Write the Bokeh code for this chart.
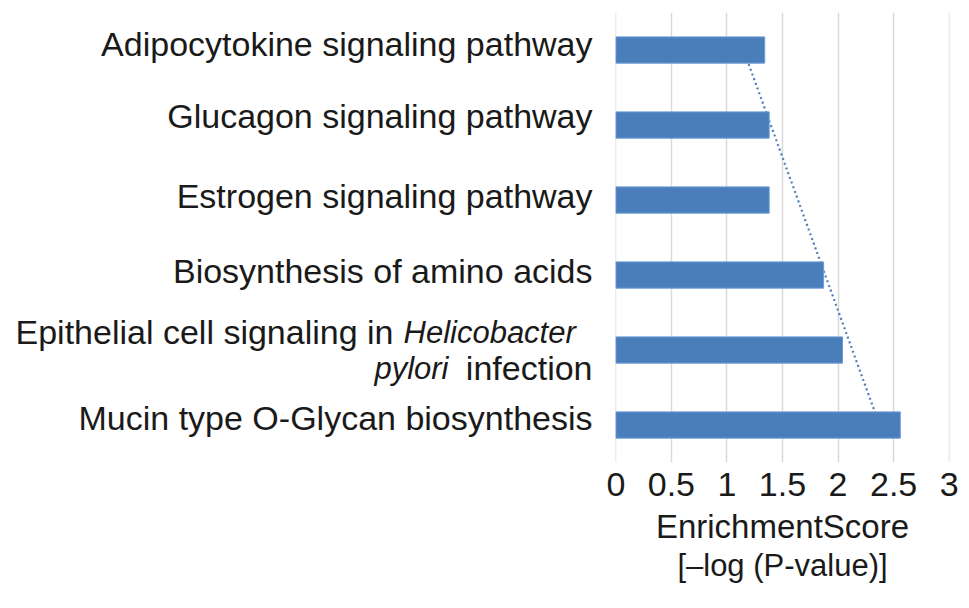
import numpy as np
from bokeh.plotting import figure
from bokeh.layouts import row
from bokeh.models import ColumnDataSource, Range1d, FactorRange, FixedTicker, LinearAxis
from bokeh.core.properties import value
from bokeh.embed import file_html
from bokeh.resources import INLINE

# ---- data ----
categories = [
    "Adipocytokine signaling pathway",
    "Glucagon signaling pathway",
    "Estrogen signaling pathway",
    "Biosynthesis of amino acids",
    "Epithelial cell signaling in Helicobacter pylori infection",
    "Mucin type O-Glycan biosynthesis",
]
scores = [1.34, 1.38, 1.38, 1.87, 2.04, 2.56]
x_ticks = [0, 0.5, 1, 1.5, 2, 2.5, 3]
x_tick_labels = ["0", "0.5", "1", "1.5", "2", "2.5", "3"]
x_title_1 = "EnrichmentScore"
x_title_2 = "[\u2013log (P-value)]"

FONT = "Liberation Sans"
BAR = "#4a7ebb"
TXT = "#1a1a1a"

y_range = FactorRange(factors=list(reversed(categories)))

# ---------- left panel: category labels (allows partial italics) ----------
lab = figure(y_range=y_range, x_range=Range1d(-615, -20),
             frame_width=595, frame_height=450,
             min_border_left=0, min_border_right=0,
             min_border_top=12, min_border_bottom=0,
             output_backend="svg", toolbar_location=None)
lab.axis.visible = False
lab.grid.visible = False
lab.outline_line_color = None

epi = categories[4]
normal_src = ColumnDataSource(dict(
    x=[-23, -23, -23, -23, -23, -222, -23],
    y=[categories[0], categories[1], categories[2], categories[3], categories[5], epi, epi],
    text=[categories[0], categories[1], categories[2], categories[3], categories[5],
          "Epithelial cell signaling in", "infection"],
    yo=[-6, -9, -4, -4, -7, -18, 18],
))
lab.text(x="x", y="y", text="text", y_offset="yo", source=normal_src,
         text_align="right", text_baseline="middle",
         text_font=value(FONT), text_font_size="34px", text_color=TXT)
ital_src = ColumnDataSource(dict(
    x=[-167, -212], y=[epi, epi], text=["pylori", "Helicobacter"],
    yo=[18, -18], al=["right", "left"],
))
lab.text(x="x", y="y", text="text", y_offset="yo", text_align="al", source=ital_src,
         text_baseline="middle", text_font=value(FONT), text_font_style="italic",
         text_font_size="31px", text_color=TXT)

# ---------- right panel: the bar chart ----------
p = figure(y_range=y_range, x_range=Range1d(-0.003, 3.003),
           frame_width=334, frame_height=450,
           min_border_left=20, min_border_right=14,
           min_border_top=12, min_border_bottom=10,
           output_backend="svg", toolbar_location=None)
p.outline_line_color = None
p.yaxis.visible = False
p.ygrid.visible = False

p.xaxis.ticker = FixedTicker(ticks=x_ticks)
p.xgrid.ticker = FixedTicker(ticks=x_ticks)
p.xaxis.major_label_overrides = {t: s for t, s in zip(x_ticks, x_tick_labels)}
p.xaxis.axis_line_color = None
p.xaxis.major_tick_line_color = None
p.xaxis.minor_tick_line_color = None
p.xaxis.major_label_standoff = 4
p.xaxis.major_label_text_font = FONT
p.xaxis.major_label_text_font_size = "34px"
p.xaxis.major_label_text_color = TXT
p.xaxis.axis_label = x_title_1
p.xaxis.axis_label_standoff = 9
p.xaxis.axis_label_text_font = FONT
p.xaxis.axis_label_text_font_size = "33px"
p.xaxis.axis_label_text_font_style = "normal"
p.xaxis.axis_label_text_color = TXT
p.xgrid.grid_line_color = "#d9d9d9"
p.xgrid.grid_line_width = 1.5

ax2 = LinearAxis(ticker=FixedTicker(ticks=[]), axis_label=x_title_2,
                 axis_line_color=None, major_tick_line_color=None,
                 minor_tick_line_color=None, major_label_text_font_size="0px",
                 axis_label_standoff=0, axis_label_text_font=FONT,
                 axis_label_text_font_size="31px", axis_label_text_font_style="normal",
                 axis_label_text_color=TXT)
p.add_layout(ax2, "below")

# linear trendline computed from the data
idx = np.arange(len(scores))
slope, intercept = np.polyfit(idx, scores, 1)
p.line(x=[intercept, intercept + slope * (len(scores) - 1)],
       y=[categories[0], categories[-1]],
       line_color=BAR, line_width=2.2, line_dash="2 3")

p.hbar(y=categories, left=0, right=scores, height=0.35,
       fill_color=BAR, line_color="#6b9bd6", line_width=1)

layout = row(lab, p, spacing=0)
open("out.html", "w").write(file_html(layout, INLINE))
